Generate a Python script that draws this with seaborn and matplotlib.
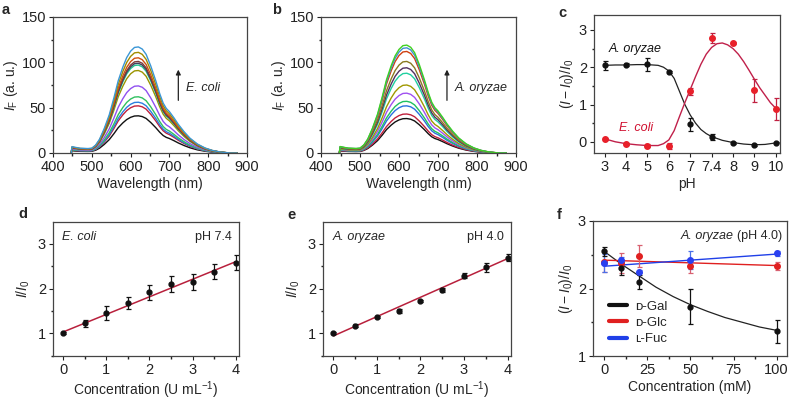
import numpy as np
import pandas as pd
import matplotlib
matplotlib.use("Agg")
import matplotlib.pyplot as plt
import seaborn as sns
from matplotlib.lines import Line2D
from matplotlib.ticker import AutoMinorLocator
from matplotlib.transforms import offset_copy

# Spektrum verileri (a, b)
wavelength = [447, 449, 455, 470, 490, 500, 510, 520, 532, 545, 557, 568, 580, 590, 600,
              610, 620, 630, 640, 652, 665, 675, 684, 692, 700, 712, 723, 738, 753, 772,
              792, 810, 830, 845, 857, 875]
profile = [0.0, 0.06, 0.055, 0.045, 0.042, 0.045, 0.075, 0.13, 0.23, 0.36, 0.52, 0.68,
           0.81, 0.9, 0.96, 0.995, 1.0, 0.98, 0.93, 0.82, 0.68, 0.56, 0.47, 0.42, 0.39,
           0.33, 0.27, 0.2, 0.14, 0.085, 0.047, 0.025, 0.01, 0.004, 0.0, 0.0]
peaks_a = [41, 52, 56, 62, 74, 91, 97, 99, 101, 105, 111, 117]
colors_a = ["#111111", "#c0203c", "#2a7fe0", "#30c060", "#9050f0", "#9a9400",
            "#20c890", "#404060", "#7a3a3a", "#d05010", "#a08c00", "#3a96d6"]
peaks_b = [38, 43, 52, 57, 66, 75, 88, 94, 101, 112, 116, 119]
colors_b = ["#111111", "#c0203c", "#2a70e0", "#20c060", "#a050f0", "#a09800",
            "#20d0a0", "#503060", "#8a7a20", "#d04010", "#4090d0", "#40d020"]

# pH verileri (c)
ph_labels = ["3", "4", "5", "6", "7", "7.4", "8", "9", "10"]
ph_pos = [0, 1, 2, 3, 4, 5, 6, 7, 8]
oryzae_ph = [2.05, 2.07, 2.08, 1.88, 0.47, 0.13, -0.03, -0.08, -0.02]
oryzae_ph_err = [0.12, 0.04, 0.18, 0.03, 0.18, 0.07, 0.02, 0.02, 0.02]
coli_ph = [0.08, -0.05, -0.1, -0.1, 1.35, 2.78, 2.65, 1.38, 0.88]
coli_ph_err = [0.03, 0.03, 0.03, 0.08, 0.1, 0.14, 0.03, 0.3, 0.3]
oryzae_fit_x = [0, 0.5, 1, 1.5, 2, 2.5, 2.75, 3, 3.25, 3.5, 3.75, 4, 4.25, 4.5, 4.75, 5,
                5.5, 6, 6.5, 7, 7.5, 8]
oryzae_fit_y = [2.05, 2.06, 2.06, 2.07, 2.07, 2.05, 2.0, 1.9, 1.7, 1.35, 1.0, 0.72, 0.5,
                0.33, 0.22, 0.14, 0.04, -0.02, -0.06, -0.08, -0.07, -0.03]
coli_fit_x = [0, 0.5, 1, 1.5, 2, 2.5, 2.75, 3, 3.25, 3.5, 3.75, 4, 4.25, 4.5, 4.75, 5,
              5.25, 5.5, 5.75, 6, 6.25, 6.5, 6.75, 7, 7.25, 7.5, 7.75, 8]
coli_fit_y = [0.08, 0.0, -0.05, -0.08, -0.1, -0.1, -0.05, 0.05, 0.3, 0.68, 1.05, 1.4,
              1.75, 2.08, 2.35, 2.53, 2.63, 2.65, 2.6, 2.5, 2.35, 2.15, 1.92, 1.68,
              1.45, 1.25, 1.05, 0.9]

# Konsantrasyon verileri (d, e)
conc = [0, 0.5, 1, 1.5, 2, 2.5, 3, 3.5, 4]
coli_conc = [1.0, 1.22, 1.45, 1.67, 1.92, 2.1, 2.15, 2.38, 2.58]
coli_conc_err = [0.02, 0.07, 0.15, 0.13, 0.17, 0.18, 0.18, 0.17, 0.17]
coli_line_x = [0, 4]
coli_line_y = [1.03, 2.6]
oryzae_conc = [1.0, 1.17, 1.36, 1.5, 1.72, 1.97, 2.29, 2.48, 2.69]
oryzae_conc_err = [0.02, 0.03, 0.03, 0.04, 0.03, 0.04, 0.05, 0.1, 0.08]
oryzae_line_x = [0, 4]
oryzae_line_y = [0.94, 2.67]

# Şeker verileri (f)
sugar_conc = [0, 10, 20, 50, 100]
gal = [2.55, 2.3, 2.1, 1.73, 1.37]
gal_err = [0.07, 0.1, 0.1, 0.26, 0.17]
glc = [2.4, 2.38, 2.48, 2.33, 2.34]
glc_err = [0.15, 0.15, 0.16, 0.1, 0.06]
fuc = [2.38, 2.42, 2.25, 2.42, 2.52]
fuc_err = [0.13, 0.05, 0.02, 0.13, 0.04]
gal_fit_x = [0, 10, 20, 30, 40, 50, 60, 70, 80, 90, 100]
gal_fit_y = [2.55, 2.36, 2.19, 2.02, 1.88, 1.76, 1.66, 1.57, 1.5, 1.43, 1.38]
glc_fit_y = [2.42, 2.34]
fuc_fit_y = [2.33, 2.51]

sns.set_theme(style="ticks")
plt.rcParams['font.family'] = ['Liberation Sans', 'DejaVu Sans']
plt.rcParams['mathtext.fontset'] = 'custom'
plt.rcParams['mathtext.rm'] = 'Liberation Sans'
plt.rcParams['mathtext.it'] = 'Liberation Sans:italic'
plt.rcParams['axes.edgecolor'] = '#444444'
plt.rcParams['axes.linewidth'] = 0.9
plt.rcParams['xtick.color'] = '#222222'
plt.rcParams['ytick.color'] = '#222222'
plt.rcParams['xtick.major.size'] = 3
plt.rcParams['ytick.major.size'] = 3
plt.rcParams['xtick.minor.size'] = 1.8
plt.rcParams['ytick.minor.size'] = 1.8
plt.rcParams['xtick.major.width'] = 0.8
plt.rcParams['ytick.major.width'] = 0.8

W, H = 790, 403
fig = plt.figure(figsize=(7.9, 4.03), dpi=100)


def box(l, r, t, b):
    return fig.add_axes([l / W, 1 - b / H, (r - l) / W, (b - t) / H])


ax_a = box(53, 247, 17, 153)
ax_b = box(321, 516, 17, 153)
ax_c = box(594, 780, 15, 153)
ax_d = box(53, 239, 222, 356)
ax_e = box(323, 511, 222, 356)
ax_f = box(593, 787, 221, 356)

TICK = 10.5
LAB = 10

for ax in [ax_a, ax_b, ax_c, ax_d, ax_e, ax_f]:
    for s in ax.spines.values():
        s.set_visible(True)
    ax.tick_params(labelsize=TICK, pad=2)
    ax.tick_params(which='minor', direction='out')


def spectra(ax, peaks, colors, label):
    rows = []
    for i, p in enumerate(peaks):
        for w, v in zip(wavelength, profile):
            rows.append({'wl': w, 'val': v * p, 'curve': i})
    df = pd.DataFrame(rows)
    sns.lineplot(data=df, x='wl', y='val', hue='curve', palette=colors, legend=False,
                 sort=False, linewidth=1.0, ax=ax)
    ax.set_xlim(400, 900)
    ax.set_ylim(0, 150)
    ax.set_xticks([400, 500, 600, 700, 800, 900])
    ax.set_yticks([0, 50, 100, 150])
    ax.xaxis.set_minor_locator(AutoMinorLocator(2))
    ax.yaxis.set_minor_locator(AutoMinorLocator(2))
    ax.set_xlabel('Wavelength (nm)', fontsize=LAB, labelpad=2)
    ax.set_ylabel(r'$I_{\mathrm{F}}$ (a. u.)', fontsize=LAB, labelpad=1)
    ax.annotate('', xy=(723, 95), xytext=(723, 55),
                arrowprops=dict(arrowstyle='-|>', color='#222222', lw=0.9, mutation_scale=7))
    ax.text(742, 72, label, fontsize=9, style='italic', va='center', ha='left')


spectra(ax_a, peaks_a, colors_a, 'E. coli')
spectra(ax_b, peaks_b, colors_b, 'A. oryzae')

# c paneli
sns.lineplot(x=oryzae_fit_x, y=oryzae_fit_y, color='#222222', linewidth=0.9, ax=ax_c)
sns.lineplot(x=coli_fit_x, y=coli_fit_y, color='#c0204a', linewidth=1.0, ax=ax_c)
ax_c.errorbar(ph_pos, oryzae_ph, yerr=oryzae_ph_err, fmt='o', color='#111111', ms=3.5,
              capsize=1.8, elinewidth=0.9, capthick=0.9)
ax_c.errorbar(ph_pos, coli_ph, yerr=coli_ph_err, fmt='o', color='#e8202a', ms=4,
              capsize=1.8, elinewidth=0.9, capthick=0.9, ecolor='#c02040')
ax_c.set_xlim(-0.5, 8.2)
ax_c.set_ylim(-0.3, 3.4)
ax_c.set_xticks(ph_pos)
ax_c.set_xticklabels(ph_labels)
ax_c.set_yticks([0, 1, 2, 3])
ax_c.yaxis.set_minor_locator(AutoMinorLocator(2))
ax_c.set_xlabel('pH', fontsize=LAB, labelpad=2)
ax_c.set_ylabel(r'$(I-I_0)/I_0$', fontsize=LAB, labelpad=2)
ax_c.text(0.2, 2.42, 'A. oryzae', fontsize=9, style='italic', color='#111111')
ax_c.text(0.65, 0.3, 'E. coli', fontsize=9, style='italic', color='#d01030')


def conc_panel(ax, y, err, lx, ly, name, ph):
    sns.lineplot(x=lx, y=ly, color='#b8203c', linewidth=1.1, ax=ax)
    ax.errorbar(conc, y, yerr=err, fmt='o', color='#111111', ms=3.5,
                capsize=1.8, elinewidth=0.9, capthick=0.9)
    ax.set_xlim(-0.24, 4.08)
    ax.set_ylim(0.49, 3.49)
    ax.set_xticks([0, 1, 2, 3, 4])
    ax.set_yticks([1, 2, 3])
    ax.xaxis.set_minor_locator(AutoMinorLocator(2))
    ax.yaxis.set_minor_locator(AutoMinorLocator(2))
    ax.set_xlabel(r'Concentration (U mL$^{-1}$)', fontsize=LAB, labelpad=2)
    ax.set_ylabel(r'$I/I_0$', fontsize=LAB, labelpad=4)
    ax.text(0.05, 0.93, name, transform=ax.transAxes, fontsize=9, style='italic',
            va='top')
    ax.text(0.96, 0.93, ph, transform=ax.transAxes, fontsize=9, va='top', ha='right')


conc_panel(ax_d, coli_conc, coli_conc_err, coli_line_x, coli_line_y, 'E. coli', 'pH 7.4')
conc_panel(ax_e, oryzae_conc, oryzae_conc_err, oryzae_line_x, oryzae_line_y, 'A. oryzae', 'pH 4.0')

# f paneli
sns.lineplot(x=gal_fit_x, y=gal_fit_y, color='#222222', linewidth=0.9, ax=ax_f)
sns.lineplot(x=[0, 100], y=glc_fit_y, color='#e02020', linewidth=1.0, ax=ax_f)
sns.lineplot(x=[0, 100], y=fuc_fit_y, color='#2040e8', linewidth=1.0, ax=ax_f)
ax_f.errorbar(sugar_conc, glc, yerr=glc_err, fmt='o', color='#e02020', ms=4,
              capsize=1.8, elinewidth=0.9, capthick=0.9, ecolor='#d86070')
ax_f.errorbar(sugar_conc, fuc, yerr=fuc_err, fmt='o', color='#2a40f0', ms=4,
              capsize=1.8, elinewidth=0.9, capthick=0.9, ecolor='#4a70e8')
ax_f.errorbar(sugar_conc, gal, yerr=gal_err, fmt='o', color='#111111', ms=3.5,
              capsize=1.8, elinewidth=0.9, capthick=0.9)
ax_f.set_xlim(-6.5, 106)
ax_f.set_ylim(1, 3)
ax_f.set_xticks([0, 25, 50, 75, 100])
ax_f.set_yticks([1, 2, 3])
ax_f.xaxis.set_minor_locator(AutoMinorLocator(2))
ax_f.yaxis.set_minor_locator(AutoMinorLocator(2))
ax_f.set_xlabel('Concentration (mM)', fontsize=LAB, labelpad=2)
ax_f.set_ylabel(r'$(I-I_0)/I_0$', fontsize=LAB, labelpad=2)
ph_txt = ax_f.text(0.975, 0.93, '(pH 4.0)', transform=ax_f.transAxes,
                   fontsize=9, va='top', ha='right')
fig.canvas.draw()
ph_w = ph_txt.get_window_extent().width
ax_f.text(0.975, 0.93, 'A. oryzae', fontsize=9, style='italic', va='top', ha='right',
          transform=offset_copy(ax_f.transAxes, fig=fig, x=-(ph_w + 3), y=0, units='dots'))
handles = [Line2D([], [], color='#111111', lw=3),
           Line2D([], [], color='#e02020', lw=3),
           Line2D([], [], color='#2040e8', lw=3)]
ax_f.legend(handles, ['\u1d05-Gal', '\u1d05-Glc', '\u029f-Fuc'], loc='center left',
            bbox_to_anchor=(0.02, 0.245), frameon=False, fontsize=9.5, handlelength=1.4,
            handletextpad=0.6, labelspacing=0.3)

# panel harfleri
for lab, x, y in [('a', 6, 10), ('b', 277, 10), ('c', 562, 13),
                  ('d', 23, 214), ('e', 292, 215), ('f', 559, 215)]:
    fig.text(x / W, 1 - y / H, lab, fontsize=10.5, fontweight='bold', ha='center', va='center')

fig.savefig('out.png', dpi=100)
